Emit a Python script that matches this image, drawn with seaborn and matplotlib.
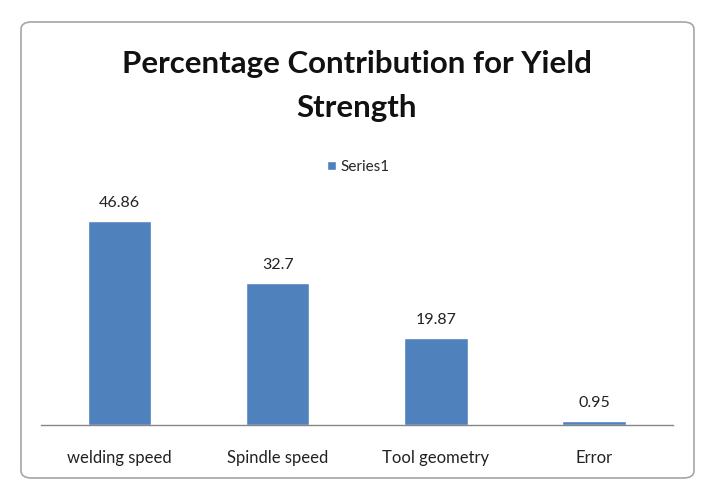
import matplotlib
matplotlib.use("Agg")
import matplotlib.pyplot as plt
import seaborn as sns
import pandas as pd
from matplotlib.patches import FancyBboxPatch, Patch

categories = ["welding speed", "Spindle speed", "Tool geometry", "Error"]
values = [46.86, 32.7, 19.87, 0.95]
value_labels = ["46.86", "32.7", "19.87", "0.95"]
series_name = "Series1"
title = "Percentage Contribution for Yield\nStrength"

sns.set_theme(style="white")
plt.rcParams['font.family'] = ['Lato', 'DejaVu Sans']

df = pd.DataFrame({"category": categories, "value": values})

fig = plt.figure(figsize=(7.05, 4.83), dpi=100)
fig.patch.set_facecolor("white")

# frame
frame = FancyBboxPatch((21/705, 5/483), 673/705, 456/483,
                       boxstyle="round,pad=0,rounding_size=0.015",
                       transform=fig.transFigure, facecolor="none",
                       edgecolor="#a6a6a6", linewidth=1.2, zorder=-1)
fig.patches.append(frame)

ax = fig.add_axes([40.7/705, 1 - 425/483, 632.3/705, (425 - 207.3)/483])
ax.set_facecolor("none")
sns.barplot(data=df, x="category", y="value", color="#4F81BD", width=0.40,
            saturation=1, ax=ax)
ax.set_ylim(0, 50)
ax.set_xlim(-0.5, 3.5)
ax.set_yticks([])
ax.set_xlabel("")
ax.set_ylabel("")
for s in ["top", "right", "left"]:
    ax.spines[s].set_visible(False)
ax.spines["bottom"].set_color("#868686")
ax.spines["bottom"].set_linewidth(1.0)
ax.tick_params(axis="x", length=0, pad=18, labelsize=12, labelcolor="#222222")

for i, (v, lab) in enumerate(zip(values, value_labels)):
    ax.annotate(lab, (i, v), xytext=(0, 8), textcoords="offset points",
                ha="center", va="bottom", fontsize=11.5, color="#222222")

fig.text(357/705, 1 - 86/483, title, ha="center", va="center",
         fontsize=22.5, fontweight="bold", color="#111111", linespacing=1.7)

leg = fig.legend(handles=[Patch(facecolor="#4F81BD", label=series_name)],
                 loc="center", bbox_to_anchor=(358/705, 1 - 167/483),
                 frameon=False, fontsize=11, handlelength=0.6, handleheight=0.6,
                 handletextpad=0.3)

fig.savefig("out.png", dpi=100)
